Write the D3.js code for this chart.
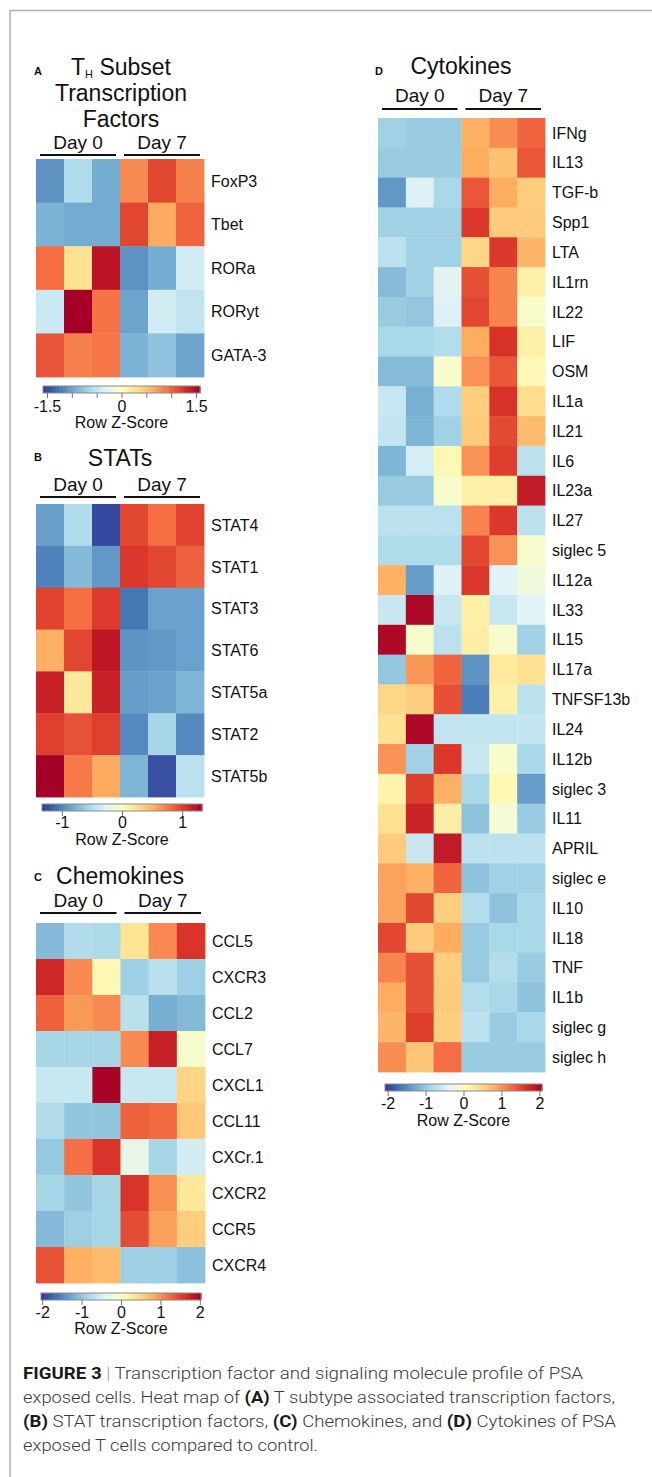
<!DOCTYPE html>
<html>
<head>
<meta charset="utf-8">
<script src="https://cdn.jsdelivr.net/npm/d3@7"></script>
<style>
  body { margin: 0; background: #fff; }
  svg text { font-family: "Liberation Sans", Arial, Helvetica, sans-serif; fill: #111; }
</style>
</head>
<body>
<svg id="fig" width="652" height="1477"></svg>
<script>
// samples (3 replicates per day) and the two day groups
var samples = ["d0_1", "d0_2", "d0_3", "d7_1", "d7_2", "d7_3"]
var groups = ["Day 0", "Day 7"]

// A - TH subset transcription factors (row z-scores)
var tfGenes = ["FoxP3", "Tbet", "RORa", "RORyt", "GATA-3"]
var tfValues = [
    [-1.1, -0.6, -0.95, 0.8, 1.15, 0.85],
    [-0.9, -0.95, -0.95, 1.15, 0.65, 1.0],
    [0.95, 0.3, 1.45, -1.1, -0.95, -0.4],
    [-0.45, 1.58, 0.92, -1.0, -0.4, -0.5],
    [1.07, 0.85, 0.9, -0.9, -0.8, -1.0]
]

// B - STATs
var statGenes = ["STAT4", "STAT1", "STAT3", "STAT6", "STAT5a", "STAT2", "STAT5b"]
var statValues = [
    [-0.86, -0.5, -1.25, 0.97, 0.8, 0.98],
    [-1.0, -0.72, -0.9, 1.03, 0.97, 0.85],
    [0.98, 0.8, 1.02, -1.05, -0.85, -0.85],
    [0.52, 0.97, 1.2, -0.92, -0.9, -0.85],
    [1.15, 0.2, 1.15, -0.87, -0.85, -0.75],
    [1.0, 0.92, 1.0, -0.97, -0.55, -0.97],
    [1.33, 0.75, 0.55, -0.75, -1.22, -0.45]
]

// C - chemokines
var chemoGenes = ["CCL5", "CXCR3", "CCL2", "CCL7", "CXCL1", "CCL11", "CXCr.1", "CXCR2", "CCR5", "CXCR4"]
var chemoValues = [
    [-1.1, -0.76, -0.8, 0.36, 1.04, 1.6],
    [1.7, 1.04, 0.1, -0.9, -0.7, -0.9],
    [1.3, 0.94, 1.04, -0.7, -1.2, -1.1],
    [-0.84, -0.84, -0.84, 1.04, 1.76, -0.1],
    [-0.6, -0.6, 2.0, -0.6, -0.6, 0.5],
    [-0.76, -1.0, -1.0, 1.3, 1.24, 0.6],
    [-0.96, 1.2, 1.6, -0.3, -0.84, -0.5],
    [-0.84, -1.0, -0.84, 1.6, 1.0, 0.3],
    [-1.1, -0.9, -0.84, 1.44, 0.9, 0.56],
    [1.4, 0.8, 0.72, -0.9, -0.9, -1.04]
]

// D - cytokines
var cytoGenes = ["IFNg", "IL13", "TGF-b", "Spp1", "LTA", "IL1rn", "IL22", "LIF", "OSM", "IL1a",
    "IL21", "IL6", "IL23a", "IL27", "siglec 5", "IL12a", "IL33", "IL15", "IL17a", "TNFSF13b",
    "IL24", "IL12b", "siglec 3", "IL11", "APRIL", "siglec e", "IL10", "IL18", "TNF", "IL1b",
    "siglec g", "siglec h"]
var cytoValues = [
    [-0.9, -0.96, -0.96, 0.8, 1.04, 1.3],
    [-0.96, -0.96, -0.96, 0.84, 0.66, 1.4],
    [-1.4, -0.44, -0.84, 1.4, 0.84, 0.56],
    [-0.9, -0.9, -0.9, 1.6, 0.6, 0.6],
    [-0.7, -0.9, -0.9, 0.5, 1.6, 0.76],
    [-1.1, -0.9, -0.36, 1.44, 1.1, 0.2],
    [-0.96, -1.0, -0.44, 1.5, 1.1, -0.1],
    [-0.84, -0.84, -0.76, 0.84, 1.64, 0.2],
    [-1.1, -1.1, -0.1, 1.0, 1.4, 0.1],
    [-0.6, -1.2, -0.8, 0.56, 1.64, 0.44],
    [-0.64, -1.16, -0.9, 0.6, 1.48, 0.72],
    [-1.16, -0.5, 0.1, 1.0, 1.56, -0.7],
    [-0.96, -0.96, -0.1, 0.2, 0.2, 1.84],
    [-0.7, -0.7, -0.7, 1.1, 1.6, -0.7],
    [-0.8, -0.8, -0.8, 1.5, 1.0, -0.1],
    [0.8, -1.36, -0.44, 1.6, -0.4, -0.2],
    [-0.6, 2.0, -0.6, 0.2, -0.6, -0.4],
    [2.0, -0.1, -0.7, 0.24, -0.1, -0.9],
    [-1.0, 0.96, 1.3, -1.44, 0.3, 0.4],
    [0.5, 0.56, 1.44, -1.6, 0.2, -0.7],
    [0.4, 2.0, -0.64, -0.64, -0.64, -0.64],
    [1.0, -0.9, 1.6, -0.6, -0.1, -0.84],
    [0.16, 1.56, 0.8, -0.84, 0.1, -1.36],
    [0.4, 1.76, 0.24, -1.04, -0.16, -0.96],
    [0.6, -0.6, 1.84, -0.7, -0.7, -0.7],
    [0.9, 0.8, 1.3, -1.04, -0.9, -0.9],
    [0.9, 1.5, 0.56, -0.76, -1.04, -0.84],
    [1.5, 0.6, 0.84, -0.96, -0.84, -0.84],
    [1.1, 1.44, 0.56, -0.96, -0.76, -0.96],
    [0.84, 1.44, 0.6, -0.76, -0.84, -1.04],
    [0.76, 1.56, 0.56, -0.7, -0.96, -0.84],
    [1.04, 0.64, 1.24, -0.96, -0.96, -0.96]
]

// colour key ticks / labels
var tfKeyTicks = [-1.5, -1, -0.5, 0, 0.5, 1, 1.5]
var tfKeyLabels = [-1.5, 0, 1.5]
var statKeyTicks = [-1, 0, 1]
var statKeyLabels = [-1, 0, 1]
var wideKeyTicks = [-2, -1, 0, 1, 2]
var wideKeyLabels = [-2, -1, 0, 1, 2]

// caption, one array per printed line: [text, bold?, colour]
var captionLines = [
    [["FIGURE 3", true], [" | ", false, "#999"], ["Transcription factor and signaling molecule profile of PSA", false]],
    [["exposed cells. Heat map of ", false], ["(A)", true], [" T subtype associated transcription factors,", false]],
    [["(B)", true], [" STAT transcription factors, ", false], ["(C)", true], [" Chemokines, and ", false], ["(D)", true], [" Cytokines of PSA", false]],
    [["exposed T cells compared to control.", false]]
]

var svg = d3.select("#fig")

var makeColor = function(range) {
    var pal = d3.schemeRdYlBu[11].slice().reverse()
    return d3.scaleLinear()
        .domain(d3.range(11).map(i => -range + i * 2 * range / 10))
        .range(pal)
        .clamp(true)
}

var drawHeat = function(p) {
    var g = svg.append("g")
    var x = d3.scaleBand().domain(samples).range([p.x0, p.x1])
    var y = d3.scaleBand().domain(p.genes).range([p.y0, p.y1])
    var color = makeColor(p.keyMax)

    var cells = []
    p.values.forEach(function(row, i) {
        row.forEach(function(v, j) { cells.push({gene: p.genes[i], sample: samples[j], v: v}) })
    })

    g.selectAll("rect.cell")
        .data(cells)
        .enter()
        .append("rect")
            .attr("class", "cell")
            .attr("x", d => x(d.sample))
            .attr("y", d => y(d.gene))
            .attr("width", x.bandwidth() + 0.4)
            .attr("height", y.bandwidth() + 0.4)
            .attr("fill", d => color(d.v))

    g.selectAll("text.gene")
        .data(p.genes)
        .enter()
        .append("text")
            .attr("class", "gene")
            .attr("x", p.x1 + 7)
            .attr("y", d => y(d) + y.bandwidth() / 2)
            .attr("dy", "0.36em")
            .style("font-size", "16px")
            .text(d => d)

    // day headers with underline
    groups.forEach(function(name, k) {
        var a = x(samples[k * 3]), b = x(samples[k * 3 + 2]) + x.bandwidth()
        g.append("line")
            .attr("x1", a + 4).attr("x2", b - 4)
            .attr("y1", p.lineY).attr("y2", p.lineY)
            .attr("stroke", "#111").attr("stroke-width", 2)
        g.append("text")
            .attr("x", (a + b) / 2)
            .attr("y", p.dayY)
            .attr("text-anchor", "middle")
            .style("font-size", "19px")
            .text(name)
    })
}

var drawKey = function(p) {
    var g = svg.append("g")
    var k = d3.scaleLinear().domain([-p.keyMax, p.keyMax]).range([p.kx0, p.kx1])
    var color = makeColor(p.keyMax)
    var n = 48
    var bins = d3.range(n).map(i => -p.keyMax + i * 2 * p.keyMax / n)
    var step = 2 * p.keyMax / n

    g.selectAll("rect.bin")
        .data(bins)
        .enter()
        .append("rect")
            .attr("class", "bin")
            .attr("x", d => k(d))
            .attr("y", p.ky0)
            .attr("width", k(step) - k(0) + 0.5)
            .attr("height", p.ky1 - p.ky0)
            .attr("fill", d => color(d + step / 2))

    g.append("rect")
        .attr("x", p.kx0).attr("y", p.ky0)
        .attr("width", p.kx1 - p.kx0).attr("height", p.ky1 - p.ky0)
        .attr("fill", "none").attr("stroke", "#8a8a8a").attr("stroke-width", 1)

    var axis = d3.axisBottom(k)
        .tickValues(p.ticks)
        .tickSize(5)
        .tickFormat(d => p.labels.indexOf(d) >= 0 ? String(d) : "")

    var ax = g.append("g")
        .attr("transform", "translate(0," + p.ky1 + ")")
        .call(axis)
    ax.select(".domain").remove()
    ax.selectAll(".tick line").attr("stroke", "#777")
    ax.selectAll(".tick text")
        .attr("y", p.labelY - p.ky1)
        .attr("dy", null)
        .style("font-size", "16px")
        .style("font-family", "'Liberation Sans', Arial, sans-serif")
        .attr("fill", "#111")

    g.append("text")
        .attr("x", k(0))
        .attr("y", p.titleY)
        .attr("text-anchor", "middle")
        .style("font-size", "16px")
        .text("Row Z-Score")
}

var drawTitles = function() {
    var letters = [["A", 34, 75], ["B", 34, 461], ["C", 34, 881], ["D", 375, 75]]
    svg.selectAll("text.letter")
        .data(letters)
        .enter()
        .append("text")
            .attr("class", "letter")
            .attr("x", d => d[1]).attr("y", d => d[2])
            .style("font-size", "11px").style("font-weight", "bold")
            .text(d => d[0])

    var th = svg.append("text").attr("x", 121).attr("y", 75).attr("text-anchor", "middle").style("font-size", "23px")
    th.append("tspan").text("T")
    th.append("tspan").attr("dy", 3).style("font-size", "11px").text("H")
    th.append("tspan").attr("dy", -3).text(" Subset")

    var titles = [["Transcription", 121, 101], ["Factors", 121, 127], ["STATs", 120, 466],
                  ["Chemokines", 120, 884], ["Cytokines", 461, 74]]
    svg.selectAll("text.ptitle")
        .data(titles)
        .enter()
        .append("text")
            .attr("class", "ptitle")
            .attr("x", d => d[1]).attr("y", d => d[2])
            .attr("text-anchor", "middle")
            .style("font-size", "23px")
            .text(d => d[0])
}

var drawCaption = function() {
    var widths = [560, 592, 593, 295]
    var base = [1379, 1403, 1427, 1451]
    captionLines.forEach(function(line, i) {
        var t = svg.append("text")
            .attr("x", 23).attr("y", base[i])
            .attr("textLength", widths[i])
            .attr("lengthAdjust", "spacingAndGlyphs")
            .style("font-size", "17px")
            .style("font-family", "'Liberation Sans Narrow', 'Roboto', 'Liberation Sans', sans-serif")
        line.forEach(function(seg) {
            t.append("tspan")
                .text(seg[0])
                .style("font-weight", seg[1] ? "bold" : "300")
                .style("fill", seg[2] ? seg[2] : (seg[1] ? "#1a1a1a" : "#3a3a3a"))
        })
    })
}

// frame
svg.append("path")
    .attr("d", "M10,1477 V10.5 H652")
    .attr("fill", "none")
    .attr("stroke", "#b0b0b0")
    .attr("stroke-width", 1.5)

var panels = [
    {genes: tfGenes, values: tfValues, x0: 36, x1: 204, y0: 159, y1: 377, lineY: 155, dayY: 149, keyMax: 1.58,
     kx0: 43, kx1: 200, ky0: 386, ky1: 393, labelY: 412, titleY: 428, ticks: tfKeyTicks, labels: tfKeyLabels},
    {genes: statGenes, values: statValues, x0: 36, x1: 204, y0: 504, y1: 797, lineY: 497, dayY: 491, keyMax: 1.33,
     kx0: 42, kx1: 202, ky0: 804, ky1: 811, labelY: 828, titleY: 845, ticks: statKeyTicks, labels: statKeyLabels},
    {genes: chemoGenes, values: chemoValues, x0: 36, x1: 205, y0: 923, y1: 1283, lineY: 913, dayY: 907, keyMax: 2.03,
     kx0: 41, kx1: 201, ky0: 1293, ky1: 1300, labelY: 1318, titleY: 1334, ticks: wideKeyTicks, labels: wideKeyLabels},
    {genes: cytoGenes, values: cytoValues, x0: 378, x1: 545, y0: 118, y1: 1072, lineY: 109, dayY: 102, keyMax: 2.07,
     kx0: 385, kx1: 542, ky0: 1084, ky1: 1091, labelY: 1109, titleY: 1126, ticks: wideKeyTicks, labels: wideKeyLabels}
]

panels.forEach(function(p) {
    drawHeat(p)
    drawKey(p)
})
drawTitles()
drawCaption()
</script>
</body>
</html>
